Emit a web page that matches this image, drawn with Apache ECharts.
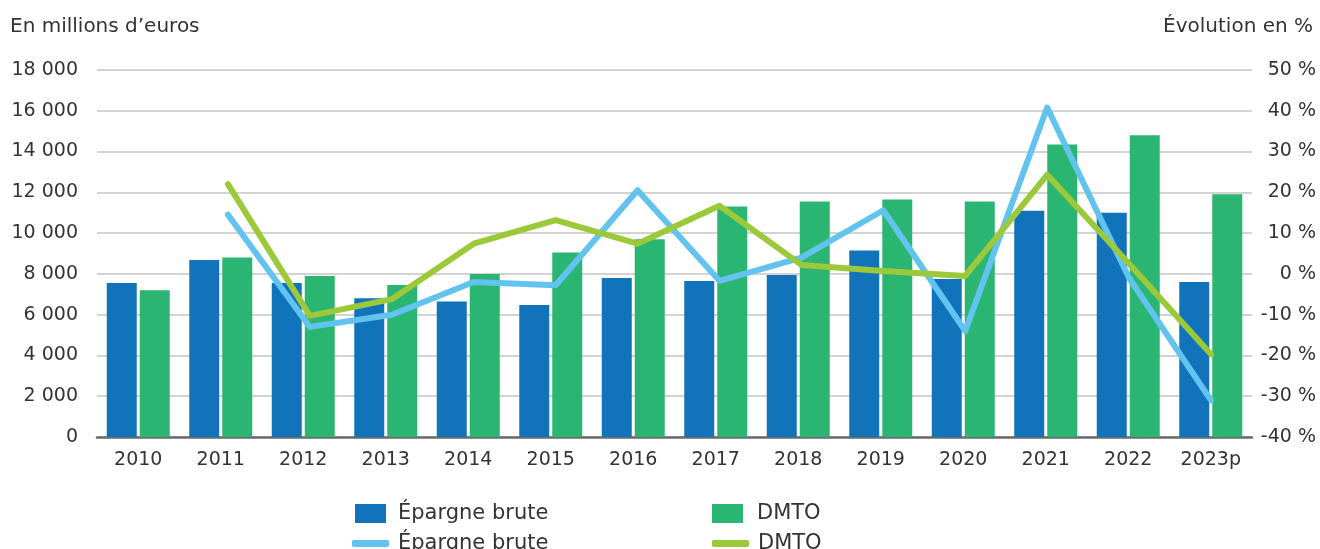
<!DOCTYPE html>
<html>
<head>
<meta charset="utf-8">
<script src="https://cdn.jsdelivr.net/npm/echarts@6/dist/echarts.min.js"></script>
<style>
  html, body { margin: 0; background: #fff; }
  #chart { width: 1320px; height: 549px; }
</style>
</head>
<body>
<div id="chart"></div>
<script>
// données
const years = ['2010', '2011', '2012', '2013', '2014', '2015', '2016', '2017', '2018', '2019', '2020', '2021', '2022', '2023p'];
const epargneBrute = [7550, 8680, 7550, 6800, 6650, 6480, 7800, 7650, 7950, 9150, 7750, 11100, 11000, 7600];
const dmto = [7200, 8800, 7900, 7450, 8000, 9050, 9700, 11300, 11550, 11650, 11550, 14350, 14800, 11900];
// évolution en %
const evolEpargne = [null, 14.5, -13, -10, -2, -2.8, 20.5, -1.7, 4, 15.6, -14, 40.8, -1, -31];
const evolDmto = [null, 22, -10.3, -6.2, 7.4, 13.2, 7.4, 16.7, 2.2, 0.7, -0.5, 24.3, 2.5, -19.7];

const font = 'DejaVu Sans';
const fs = 19;
const txt = '#333333';

let myChart = echarts.init(document.getElementById('chart'));

// même libellé pour barres et courbes dans la légende
const legendLabel = name => name.replace(' (évolution)', '');
const legendText = pad => ({ fontSize: 21, color: txt, padding: [0, 0, 0, pad] });

let option = {
  animation: false,
  textStyle: { fontFamily: font },
  title: [
    { text: 'En millions d’euros', left: 10, top: 17, padding: 0,
      textStyle: { fontSize: 20, fontWeight: 'normal', color: txt, fontFamily: font } },
    { text: 'Évolution en %', right: 7, top: 17, padding: 0,
      textStyle: { fontSize: 20, fontWeight: 'normal', color: txt, fontFamily: font } }
  ],
  legend: [
    { left: 355, top: 503, padding: 0, data: ['Épargne brute'], icon: 'rect', itemWidth: 31, itemHeight: 19,
      formatter: legendLabel, textStyle: legendText(7) },
    { left: 712, top: 503, padding: 0, data: ['DMTO'], icon: 'rect', itemWidth: 31, itemHeight: 19,
      formatter: legendLabel, textStyle: legendText(9) },
    { left: 352, top: 533, padding: 0, data: ['Épargne brute (évolution)'], icon: 'roundRect', itemWidth: 37, itemHeight: 7,
      formatter: legendLabel, textStyle: legendText(4) },
    { left: 712, top: 533, padding: 0, data: ['DMTO (évolution)'], icon: 'roundRect', itemWidth: 37, itemHeight: 7,
      formatter: legendLabel, textStyle: legendText(4) }
  ],
  grid: [
    { left: 97, right: 68, top: 70, bottom: 112 },
    // les courbes sont légèrement décalées par rapport aux barres
    { left: 146, right: 109, top: 70, bottom: 112 }
  ],
  xAxis: [
    {
      type: 'category', gridIndex: 0, data: years,
      axisTick: { show: false },
      axisLine: { lineStyle: { color: '#6b6b6b', width: 2.5 } },
      axisLabel: { fontSize: fs, color: txt, margin: 14 }
    },
    { type: 'category', gridIndex: 1, data: years, boundaryGap: false, show: false }
  ],
  yAxis: [
    {
      type: 'value', gridIndex: 0, min: 0, max: 18000, interval: 2000,
      axisLabel: {
        fontSize: fs, color: txt, margin: 19,
        formatter: v => String(v).replace(/\B(?=(\d{3})+(?!\d))/g, ' ')
      },
      splitLine: { lineStyle: { color: '#c4c4c4', width: 1.5 } }
    },
    {
      type: 'value', gridIndex: 0, position: 'right', min: -40, max: 50, interval: 10,
      axisLine: { show: false }, axisTick: { show: false },
      splitLine: { show: false },
      axisLabel: { fontSize: fs, color: txt, margin: 64, align: 'right', formatter: v => v + ' %' }
    },
    { type: 'value', gridIndex: 1, min: -40, max: 50, show: false, splitLine: { show: false } }
  ],
  series: [
    {
      name: 'Épargne brute', type: 'bar', xAxisIndex: 0, yAxisIndex: 0,
      barWidth: 30, barGap: '10%', itemStyle: { color: '#1174bb' }, data: epargneBrute
    },
    {
      name: 'DMTO', type: 'bar', xAxisIndex: 0, yAxisIndex: 0,
      barWidth: 30, barGap: '10%', itemStyle: { color: '#2bb572' }, data: dmto
    },
    {
      name: 'Épargne brute (évolution)', type: 'line', xAxisIndex: 1, yAxisIndex: 2,
      symbol: 'none', itemStyle: { color: '#62c3ee' },
      lineStyle: { width: 6, color: '#62c3ee', cap: 'round', join: 'round' },
      data: evolEpargne
    },
    {
      name: 'DMTO (évolution)', type: 'line', xAxisIndex: 1, yAxisIndex: 2,
      symbol: 'none', itemStyle: { color: '#9cc93a' },
      lineStyle: { width: 6, color: '#9cc93a', cap: 'round', join: 'round' },
      data: evolDmto
    }
  ]
};

option && myChart.setOption(option);
</script>
</body>
</html>
